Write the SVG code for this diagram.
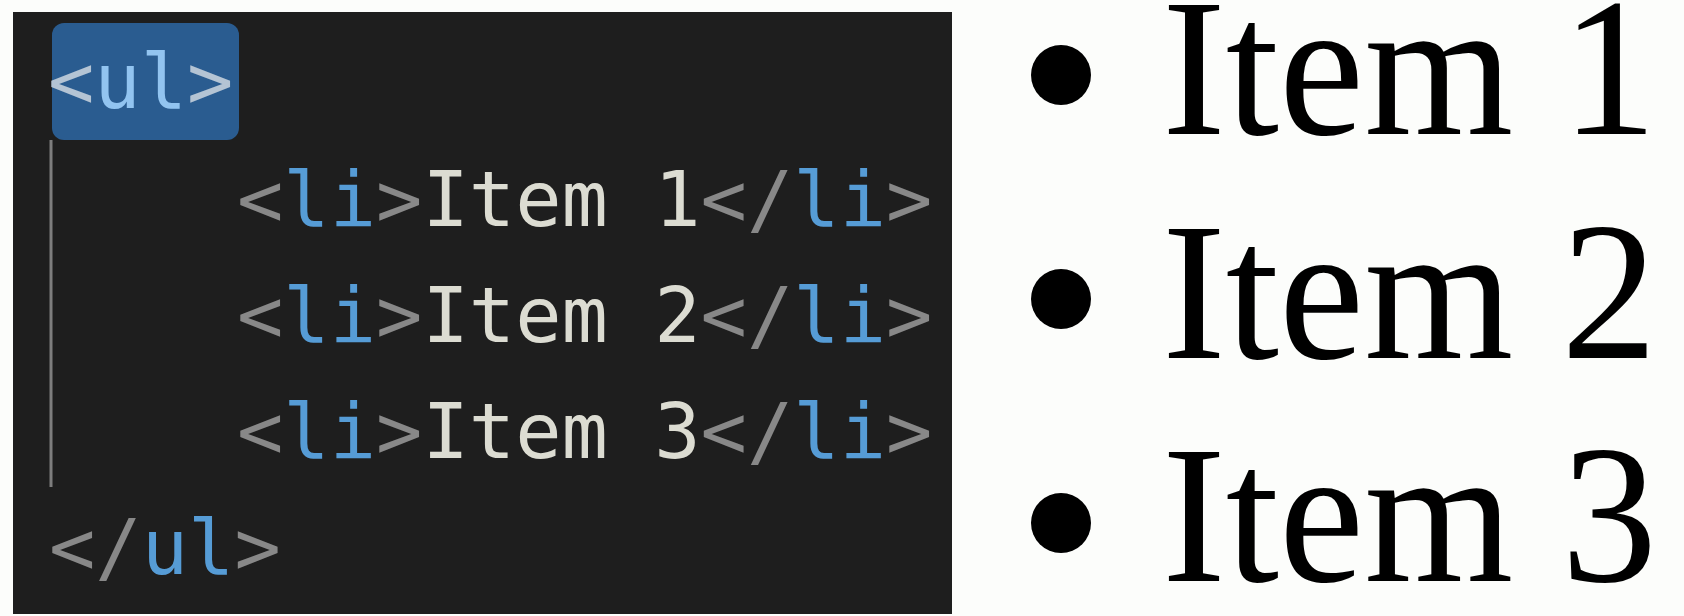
<svg xmlns="http://www.w3.org/2000/svg" width="1684" height="616" viewBox="0 0 1684 616">
<style>
.code{font-family:"DejaVu Sans Mono","Liberation Mono",monospace;font-size:77px}
.br{fill:#888888}
.tag{fill:#569cd6}
.txt{fill:#dcdcd2}
.hbr{fill:#b4c4d4}
.htag{fill:#92c4f0}
.out{font-family:"Liberation Serif","Times New Roman",serif;font-size:198px;fill:#000}
</style>
<rect x="0" y="0" width="1684" height="616" fill="#fcfdfb"/>
<g id="code-panel">
<rect x="13" y="12" width="939" height="602" fill="#1e1e1e"/>
<line x1="51" y1="140" x2="51" y2="487" stroke="#7d7d7d" stroke-width="3"/>
</g>
<g id="ul-open">
<rect x="52" y="23" width="187" height="117" rx="12" fill="#2a5c90"/>
<text class="code" x="48" y="108"><tspan class="hbr">&lt;</tspan><tspan class="htag">ul</tspan><tspan class="hbr">&gt;</tspan></text>
</g>
<g id="li-1">
<text class="code" x="237" y="226"><tspan class="br">&lt;</tspan><tspan class="tag">li</tspan><tspan class="br">&gt;</tspan><tspan class="txt">Item 1</tspan><tspan class="br">&lt;/</tspan><tspan class="tag">li</tspan><tspan class="br">&gt;</tspan></text>
</g>
<g id="li-2">
<text class="code" x="237" y="342"><tspan class="br">&lt;</tspan><tspan class="tag">li</tspan><tspan class="br">&gt;</tspan><tspan class="txt">Item 2</tspan><tspan class="br">&lt;/</tspan><tspan class="tag">li</tspan><tspan class="br">&gt;</tspan></text>
</g>
<g id="li-3">
<text class="code" x="237" y="458"><tspan class="br">&lt;</tspan><tspan class="tag">li</tspan><tspan class="br">&gt;</tspan><tspan class="txt">Item 3</tspan><tspan class="br">&lt;/</tspan><tspan class="tag">li</tspan><tspan class="br">&gt;</tspan></text>
</g>
<g id="ul-close">
<text class="code" x="49" y="574"><tspan class="br">&lt;/</tspan><tspan class="tag">ul</tspan><tspan class="br">&gt;</tspan></text>
</g>
<g id="item-1">
<circle cx="1061" cy="75" r="30" fill="#000"/>
<text class="out" x="1162" y="134" textLength="495" lengthAdjust="spacingAndGlyphs">Item 1</text>
</g>
<g id="item-2">
<circle cx="1061" cy="299" r="30" fill="#000"/>
<text class="out" x="1162" y="358" textLength="495" lengthAdjust="spacingAndGlyphs">Item 2</text>
</g>
<g id="item-3">
<circle cx="1061" cy="523" r="30" fill="#000"/>
<text class="out" x="1162" y="581" textLength="495" lengthAdjust="spacingAndGlyphs">Item 3</text>
</g>
<g id="connectors"></g>
</svg>
